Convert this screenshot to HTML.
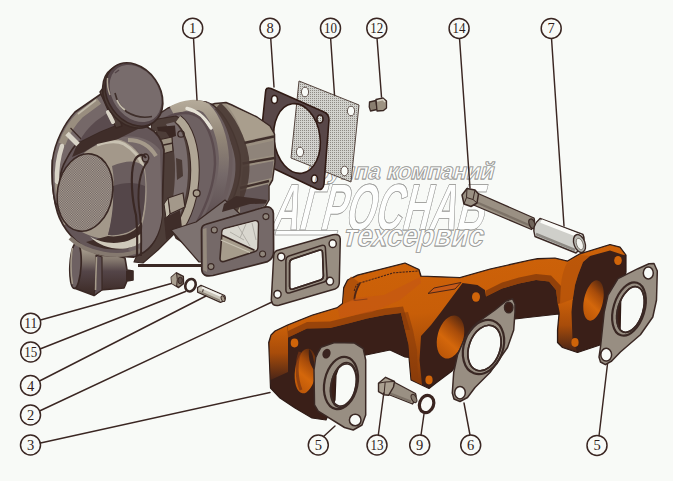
<!DOCTYPE html>
<html><head><meta charset="utf-8"><title>Турбокомпрессор и выпускной коллектор</title>
<style>
html,body{margin:0;padding:0;background:#f8faf7;}
body{width:673px;height:481px;overflow:hidden;font-family:"Liberation Serif",serif;}
svg{display:block}
.ld{stroke:#3a2622;stroke-width:1.45;fill:none;stroke-linecap:round}
.cc{fill:#f8faf7;stroke:#3a2622;stroke-width:1.5}
.ct{font-family:"Liberation Serif",serif;font-size:14.5px;fill:#2e1d1a;text-anchor:middle}
.wm{font-family:"Liberation Sans",sans-serif;font-weight:bold;fill:#fdfefd;stroke:#9a9a98;stroke-width:0.8}
</style></head><body>
<svg width="673" height="481" viewBox="0 0 673 481">
<defs>
<pattern id="dots" width="2" height="2" patternUnits="userSpaceOnUse"><rect width="2" height="2" fill="#d2d2ce"/><rect width="1" height="1" fill="#8e8a84"/></pattern>
<linearGradient id="gSleeve" x1="0" y1="0" x2="0" y2="1"><stop offset="0" stop-color="#8a857c"/><stop offset="0.25" stop-color="#f4f4f0"/><stop offset="0.6" stop-color="#c9c8c2"/><stop offset="1" stop-color="#6f685f"/></linearGradient>
</defs>
<rect width="673" height="481" fill="#f8faf7"/>

<!-- watermark -->
<g id="wm">
<text class="wm" transform="translate(305,178.5) skewX(-14)" font-size="23" textLength="188" lengthAdjust="spacingAndGlyphs" stroke-width="2.8" stroke-linejoin="miter">группа компаний</text>
<text class="wm" transform="translate(305,178.5) skewX(-14)" font-size="23" textLength="188" lengthAdjust="spacingAndGlyphs" stroke="#fdfefd" stroke-width="1.4" stroke-linejoin="miter">группа компаний</text>
<text class="wm" transform="translate(270,229.5) skewX(-14)" font-size="66" textLength="212" lengthAdjust="spacingAndGlyphs" stroke-width="4.6" stroke-linejoin="miter">АГРОСНАБ</text>
<text class="wm" transform="translate(270,229.5) skewX(-14)" font-size="66" textLength="212" lengthAdjust="spacingAndGlyphs" stroke="#fdfefd" stroke-width="3.0" stroke-linejoin="miter">АГРОСНАБ</text>
<text class="wm" transform="translate(342,245.5) skewX(-14)" font-size="31" textLength="140" lengthAdjust="spacingAndGlyphs" stroke-width="2.8" stroke-linejoin="miter">техсервис</text>
<text class="wm" transform="translate(342,245.5) skewX(-14)" font-size="31" textLength="140" lengthAdjust="spacingAndGlyphs" stroke="#fdfefd" stroke-width="1.4" stroke-linejoin="miter">техсервис</text>
<path d="M276 230.5 L338 230.5 L336.5 235 L275 235 Z" fill="#fdfefd" stroke="#9a9a98" stroke-width="0.8"/>
</g>

<!-- PLATE 10 -->
<g id="plate10">
<path d="M299 81 L359 105 L351 182 L291 158 Z" fill="url(#dots)" stroke="#54443e" stroke-width="1"/>
<ellipse cx="305" cy="92" rx="3.6" ry="4.8" fill="#f8faf7" stroke="#54443e" stroke-width="0.9"/>
<ellipse cx="351" cy="111" rx="3.6" ry="4.8" fill="#f8faf7" stroke="#54443e" stroke-width="0.9"/>
<ellipse cx="300" cy="152" rx="3.6" ry="4.8" fill="#f8faf7" stroke="#54443e" stroke-width="0.9"/>
<ellipse cx="344.5" cy="171" rx="3.6" ry="4.8" fill="#f8faf7" stroke="#54443e" stroke-width="0.9"/>
</g>

<!-- GASKET 8 -->
<g id="gasket8">
<path fill-rule="evenodd" fill="#584748" stroke="#301a14" stroke-width="1.6" stroke-linejoin="round"
 d="M265.5 92.5 Q265.5 86.5 271 88.5 L324 112 Q329 114 329 120 L324 184 Q323 191 317 189 L262 163 Q258 161 259 155 Z
    M274.2 141.7 A23 35 -8 1 0 319.8 135.3 A23 35 -8 1 0 274.2 141.7 Z
    M271.5 99.5 a3 4 0 1 0 6 0 a3 4 0 1 0 -6 0 Z
    M317 119 a3 4 0 1 0 6 0 a3 4 0 1 0 -6 0 Z
    M311.5 179 a3 4 0 1 0 6 0 a3 4 0 1 0 -6 0 Z"/>
</g>

<!-- TURBO placeholder -->
<g id="turbo" stroke-linejoin="round">
<defs>
<pattern id="dCap" width="2" height="2" patternUnits="userSpaceOnUse"><rect width="2" height="2" fill="#6e6068"/><rect width="1" height="1" fill="#b0a890"/></pattern>
<pattern id="dFace" width="2" height="2" patternUnits="userSpaceOnUse"><rect width="2" height="2" fill="#b0a890"/><rect width="1" height="1" fill="#6a5c66"/><rect x="1" y="1" width="1" height="1" fill="#6a5c66"/></pattern>
<linearGradient id="gVol" gradientUnits="userSpaceOnUse" x1="0" y1="100" x2="0" y2="225"><stop offset="0" stop-color="#b5ab9a"/><stop offset="0.3" stop-color="#928677"/><stop offset="0.6" stop-color="#756969"/><stop offset="1" stop-color="#5a4b4e"/></linearGradient>
</defs>
<!-- turbine right block -->
<path d="M210 105 L215 103.5 L221 103 L226 102.5 L232 105 L238 108 L257 117 L270 126 L274.5 134 L275 162 L272.5 180 L269 186 L269 200 L265 207 L240 216 L220 205 Z" fill="#9a8f80" stroke="#3a2824" stroke-width="1.5"/>
<path d="M226 104 L238 109 L257 118 L269 126.5 L273.5 134.5 L244 141.5 C241 128 236 116 226 104 Z" fill="#a99e8d"/>
<path d="M245 147 L274 140.5 L274 155 L244 160.5 Z" fill="#8f847a"/>
<path d="M243 167 L273.5 161 L271.5 178 L241 185 Z" fill="#7b6f6c"/>
<path d="M240 191 L268 184 L268 200 L264 206 L240 215 Z" fill="#645758"/>
<path d="M244 143 L274 136.5 M242.5 163.5 L274.5 158 M240 188 L269 181" stroke="#3f2e2a" stroke-width="2.4" fill="none"/>
<!-- turbine volute disc -->
<path d="M156 116 L168 108 L180 104 L197 101 L206 102 L213 105 C226 115 236 135 240 155 C242 172 238 190 230 205 L217 230 L204 256 L176 238 L160 200 L150 160 Z" fill="#6e6162" stroke="#3a2824" stroke-width="1.5"/>
<path d="M216 108 C229 120 239 139 242 158 C244 175 239 194 231 209 L219 232" stroke="#493833" stroke-width="14" fill="none" opacity=".9"/>
<path d="M206 104 C217 114 226 130 229 150 C231 170 227 190 220 206" stroke="#6a5c5d" stroke-width="6" fill="none"/>
<path d="M172 111 C185 104 198 103 206 108 C216 118 223 138 224 158 C224 180 218 200 208 220" stroke="url(#gVol)" stroke-width="10" fill="none"/>
<path d="M187 108.5 C196 110.5 205 118 211 128" stroke="#e6e2d6" stroke-width="3.4" fill="none" stroke-linecap="round"/>
<path d="M160 122 C172 112 190 110 200 118 C210 128 215 146 215 164 C214 184 207 204 197 222" stroke="#5b4b4e" stroke-width="2.4" fill="none"/>
<!-- center section -->
<path d="M152 120 L176 116 C190 122 197 145 197 170 C197 195 190 222 172 236 L158 250 L143 263 L134 262 L140 248 Z" fill="#4d3d38" stroke="#3a2824" stroke-width="1.2"/>
<path d="M174 122 C184 130 188 150 188 170 C188 192 183 212 174 228 L166 228 C172 210 175 190 175 170 C175 150 172 135 166 124 Z" fill="#786c6c"/>
<path d="M178 119 C189 127 195 148 195 170 C195 195 188 218 176 232" stroke="#3a2824" stroke-width="9.5" fill="none"/>
<path d="M178 119 C189 127 195 148 195 170 C195 195 188 218 176 232" stroke="#b0a695" stroke-width="7.5" fill="none"/>
<path d="M152 132 C157 150 159 190 156 222" stroke="#b0a695" stroke-width="8" fill="none"/>
<path d="M156.5 132 C161.5 150 163.5 190 160.5 222" stroke="#3a2824" stroke-width="1.2" fill="none"/>
<path d="M157 127 L175 125.5 L176 136 L170 138 L166 132 L158 131 Z" fill="#3a2824"/>
<path d="M158 140 L172 137 L173 151 L159 155 Z" fill="#9d9282" stroke="#3a2824" stroke-width="1.2"/>
<path d="M159 146 L173 143" stroke="#3a2824" stroke-width="1.4"/>
<path d="M176 158 L182 160 L183 176 L177 180 Z" fill="#4a3a35"/>
<path d="M168 198 L183 193 L185 207 L170 214 Z" fill="#a3988a" stroke="#3a2824" stroke-width="1.3"/>
<path d="M168 198 L170 214 L166 218 L164 204 Z" fill="#c2bbab" stroke="#3a2824" stroke-width="1"/>
<path d="M164 218 L180 210 L182 228 L166 240 Z" fill="#3f2d29"/>
<circle cx="181" cy="134" r="3.2" fill="none" stroke="#3a2824" stroke-width="1.3"/>
<circle cx="196.7" cy="193.3" r="3.4" fill="#a59a8a" stroke="#3a2824" stroke-width="1.3"/>
<!-- underside to flange -->
<path d="M171 230 L199 262 L204 262 L204 226 L240 214 L225 200 L196 222 Z" fill="#7d7270" stroke="#3a2824" stroke-width="1.2"/>
<path d="M222 212 L250 204 L266 203.5 L267 200 L236 196 L224 204 Z" fill="#3f2d29"/>
<!-- turbine flange -->
<path d="M201.5 230 Q201.5 225.5 206 224.3 L264 207.3 Q272.5 205.5 273.4 213.3 L273.6 251 Q273.6 258.5 267.6 261.6 L213 275.5 Q202.5 277.5 201.8 270 Z" fill="#756968" stroke="#3a2824" stroke-width="1.7"/>
<path d="M203 229 L206.5 228 L207 272 L203.2 270 Z" fill="#9d9282" opacity=".8"/>
<path d="M222 232 Q222 229.5 224.5 228.6 L254 220.9 Q258.4 220 258.4 224 L257.8 247.5 Q257.6 251 254.3 251.8 L224 261.5 Q220 262.3 220 258.5 Z" fill="#a69c8b" stroke="#3a2824" stroke-width="1.6"/>
<path d="M222.6 231.5 Q222.6 229.8 224.5 229.2 L254 221.5 Q257.7 220.8 257.7 224 L257.2 247.5 Q257 250 255 250.4 L222.2 235.5 Z" fill="#d9d7cf"/>
<path d="M230 232 L244 240 M238 226 L250 246 M246 224 L240 238 M252 223 L256 240" stroke="#a8a69e" stroke-width="0.8" fill="none"/>
<path d="M221.5 235 L254.5 250.2" stroke="#3a2824" stroke-width="1.7"/>
<path d="M221 240 L250 252.5" stroke="#c9c2b2" stroke-width="1.3"/>
<circle cx="214.3" cy="230" r="3" fill="#8f857b" stroke="#3a2824" stroke-width="1.1"/>
<circle cx="265.9" cy="216.6" r="3" fill="#8f857b" stroke="#3a2824" stroke-width="1.1"/>
<circle cx="262.6" cy="254" r="3" fill="#8f857b" stroke="#3a2824" stroke-width="1.1"/>
<circle cx="211" cy="266.6" r="3" fill="#8f857b" stroke="#3a2824" stroke-width="1.1"/>
<!-- rod -->
<path d="M138 265.5 L202 265.5" stroke="#3a2824" stroke-width="3"/>
<!-- lower outlet -->
<defs><linearGradient id="gOut" gradientUnits="userSpaceOnUse" x1="0" y1="246" x2="0" y2="292"><stop offset="0" stop-color="#b0a695"/><stop offset="0.3" stop-color="#85796f"/><stop offset="0.55" stop-color="#544548"/><stop offset="1" stop-color="#3f2d29"/></linearGradient></defs>
<path d="M76 243 L98 250 L125 258 L127 270 L133 271 L133 280 L127 281 L124 288 L101 290 L94 295.5 L74 288 Z" fill="url(#gOut)" stroke="#3a2824" stroke-width="1.6"/>
<path d="M96 255 L102 257 L102 290 L94 295.5 L96 280 Z" fill="#5e5053" stroke="#3a2824" stroke-width="1.2"/>
<path d="M96.5 257 L95.5 290" stroke="#a59a8a" stroke-width="1.6"/>
<ellipse cx="75.5" cy="265.5" rx="5.6" ry="23" transform="rotate(3 75.5 265.5)" fill="#6e6162" stroke="#3a2824" stroke-width="1.7"/>
<path d="M72.5 248 C70.5 258 70.5 274 72.5 284" stroke="#a59a8a" stroke-width="1.5" fill="none"/>
<path d="M126 271 L133 271 L133 280 L126 281 Z" fill="#3a2824"/>
<!-- compressor housing -->
<path d="M52.5 160 C51.5 180 53.5 204 59.5 218 C67 235 82 249 101 255 L134 257 C150 252 160 238 162 215 L164 150 C160 128 140 120 118 124 L80 128 Z" fill="#645658" stroke="#3a2824" stroke-width="1.8"/>
<!-- back part right of cylinder -->
<path d="M118 138 C135 134 150 138 160 150 L162 215 C160 235 152 248 138 254 L128 250 C140 235 146 210 146 185 C146 165 140 150 133 147 Z" fill="#756868"/>
<path d="M128 140 C140 140 150 146 156 156" stroke="#a59a8a" stroke-width="4" fill="none"/>
<!-- inlet cylinder side -->
<path d="M84 153 C92 146 106 140 117 139 C128 141 138 150 143 160 C148 178 148 205 142 226 C132 240 105 244 82 232 Z" fill="#a3988a"/>
<path d="M97 145 C108 141 118 141 124 144 C134 150 140 158 143 166" stroke="#c9c2b2" stroke-width="3" fill="none"/>
<path d="M112 166 C126 160 138 160 143 166 C147 180 146 202 141 222 C134 232 120 236 108 235 C114 215 116 188 112 166 Z" fill="#6a5d5e"/>
<path d="M113 186 C124 182 136 182 145 186 C145 200 144 212 141 222 C134 232 120 236 108 235 C112 220 114 202 113 186 Z" fill="#544649"/>
<path d="M108 236 C122 238 136 232 142 222 C143 232 140 240 134 246 C120 252 100 250 86 242 Z" fill="#3f2d29"/>
<path d="M90 236.5 C104 245 126 246 141 233.5 L141.5 242 C128 252.5 104 251 90 236.5 Z" fill="#cfc9bb"/>
<path d="M70 238 C86 254 120 260 140 250" stroke="#85796f" stroke-width="4" fill="none"/>
<!-- shadow under pipe -->
<path d="M78 142 L100 131 L127 120 L140 128 L117 139.5 L97 144 L84 152 L72 157 Z" fill="#3f2d29"/>
<!-- pipe + volute band -->
<path d="M101 94 L75 112 C64 124 55 142 52.5 160 C51.5 175 52.5 192 55.5 204 L60.5 204 C58 188 59 172 66 160 C71 150 75 145 79 142 L100 131.5 L121 123 Z" fill="#756868" stroke="#3a2824" stroke-width="1.6"/>
<path d="M99 101 L80 115 C72 123 66 133 62 144" stroke="#9d9282" stroke-width="7" fill="none" opacity=".9"/>
<path d="M96 100 L78 114" stroke="#c2bbab" stroke-width="1.6" fill="none"/>
<path d="M70.5 128 L82 140" stroke="#3a2824" stroke-width="1.2"/>
<path d="M67 133.5 L78 144.5" stroke="#d9d4c7" stroke-width="5"/>
<path d="M62 146 C58 158 56.5 170 57 182" stroke="#d9d4c7" stroke-width="4.5" fill="none" stroke-linecap="round"/>
<path d="M57 184 C57.5 200 61 214 66 224" stroke="#a59a8a" stroke-width="4" fill="none"/>
<path d="M113 109 L96 121 C89 127 83 134 79 142 L100 131.5 L121 123 Z" fill="#5a4b4e"/>
<!-- face ellipse -->
<ellipse cx="85" cy="192.5" rx="27.5" ry="39" transform="rotate(10 85 192.5)" fill="url(#dFace)" stroke="#3a2824" stroke-width="1.6"/>
<!-- wire clip -->
<path d="M146 158 C142 152 136 156 134 162 C130 175 132 200 136 215 C138 235 137 248 137 256" stroke="#3a2824" stroke-width="2.2" fill="none"/>
<path d="M148 161 C140 170 136 190 140 215 C142 235 141 248 141 256" stroke="#3a2824" stroke-width="1.9" fill="none"/>
<ellipse cx="145.5" cy="158" rx="3.2" ry="4" fill="none" stroke="#3a2824" stroke-width="1.5"/>
<!-- neck ring -->
<path d="M100 92 L106 84 L122 126 L116 128 Z" fill="#4d3d38" stroke="#3a2824" stroke-width="1.4"/>
<path d="M108 112 L113 122" stroke="#d9d4c7" stroke-width="4" stroke-linecap="round"/>
<!-- cap -->
<ellipse cx="131.5" cy="96.5" rx="34" ry="26" transform="rotate(55 131.5 96.5)" fill="#4a3a35" stroke="#3a2824" stroke-width="1.6"/>
<ellipse cx="134" cy="94.5" rx="34" ry="26" transform="rotate(55 134 94.5)" fill="#544548" stroke="#3a2824" stroke-width="1.6"/>
<ellipse cx="135.5" cy="93.5" rx="31" ry="23" transform="rotate(55 135.5 93.5)" fill="#786c6c"/>
<path d="M107.5 78 C107 84 108 90 110 95" stroke="#b3a897" stroke-width="1.4" fill="none"/>
<path d="M115 93 C117 102 121 108 127 112 C135 117 144 118 152 116.5" stroke="#3f2f2b" stroke-width="1.6" fill="none"/>
<path d="M117 100 C119 105 122 108 125 110" stroke="#c2bbab" stroke-width="1.8" fill="none"/>
<path d="M115 73 L119 70" stroke="#544548" stroke-width="1.4"/>
</g>
<g id="gasket2" stroke-linejoin="round">
<path fill-rule="evenodd" fill="#988e82" stroke="#3a2824" stroke-width="1.5"
 d="M273.7 256 Q273.7 252 277 250.5 L333 234.8 Q340 233.5 340.3 239 L339.3 283 Q339 287.5 335 289 L279 305.3 Q271.5 306.5 271.3 300 Z
    M289.6 263 Q289.6 260 292.5 259 L319 250.2 Q322.4 249.3 322.5 252.5 L323.4 276 Q323.4 279 320.5 280 L293 289 Q289.6 290 289.6 286.5 Z
    M277.6 256.8 a3.6 3.9 0 1 0 7.2 0 a3.6 3.9 0 1 0 -7.2 0 Z
    M329.1 243.7 a3.6 3.9 0 1 0 7.2 0 a3.6 3.9 0 1 0 -7.2 0 Z
    M326.3 281.2 a3.6 3.9 0 1 0 7.2 0 a3.6 3.9 0 1 0 -7.2 0 Z
    M273.9 294.3 a3.6 3.9 0 1 0 7.2 0 a3.6 3.9 0 1 0 -7.2 0 Z"/>
<path fill="none" stroke="#3a2824" stroke-width="1.6" d="M289.6 263 Q289.6 260 292.5 259 L319 250.2 Q322.4 249.3 322.5 252.5 L323.4 276 Q323.4 279 320.5 280 L293 289 Q289.6 290 289.6 286.5 Z"/>
<path fill="none" stroke="#3a2824" stroke-width="1.5" d="M285.9 260.5 Q285.9 257 289 256 L321.5 245.5 Q325.2 244.5 325.4 248 L327.1 277.5 Q327.1 281 324 282 L290 292.8 Q285.9 294 285.9 290 Z"/>
</g>
<g id="small" stroke-linejoin="round">
<!-- nut 11 -->
<path d="M171.3 277.4 L176.5 272.8 L183.3 276.4 L183.5 283.7 L178.6 287.5 L171.8 283.4 Z" fill="#8f8475" stroke="#3a2824" stroke-width="1.5"/>
<path d="M171.3 277.4 L176.5 272.8 L177.5 279 L176.8 286 L171.8 283.4 Z" fill="#aaa091"/>
<path d="M176.5 272.8 L177.3 279.5 L176.6 286.2" stroke="#3a2824" stroke-width="1" fill="none"/>
<ellipse cx="180.2" cy="280.4" rx="2.2" ry="3.4" fill="#5e4f49" stroke="#3a2824" stroke-width="1"/>
<!-- washer 15 -->
<ellipse cx="190.5" cy="285.2" rx="5" ry="6.4" transform="rotate(22 190.5 285.2)" fill="#f8faf7" stroke="#3a2824" stroke-width="2.6"/>
<!-- stud 4 -->
<path d="M197.6 287.5 L201 285.4 L224.6 295.5 Q226.3 298.5 224 301 L220.5 302.3 L197.6 292.2 Z" fill="#c9c4b8" stroke="#3a2824" stroke-width="1.3"/>
<path d="M204 286.8 L202 294" stroke="#3a2824" stroke-width="1"/>
<path d="M202 287.5 L222.5 296.5" stroke="#f1f0ea" stroke-width="2"/>
<path d="M199 291.2 L220 300.5" stroke="#8e8578" stroke-width="1.6"/>
<ellipse cx="223" cy="298.7" rx="1.7" ry="3" transform="rotate(-22 223 298.7)" fill="#a59a8a" stroke="#3a2824" stroke-width="0.9"/>
<!-- bolt 12 -->
<path d="M369.5 102 L376 100.5 L377 109.5 L370.5 111 Q368.5 107 369.5 102 Z" fill="#8a7e70" stroke="#3a2824" stroke-width="1.3"/>
<path d="M376 99.5 L383 98 L386.5 101 L386.5 108 L383.5 110.5 L377 111 Z" fill="#9d9282" stroke="#3a2824" stroke-width="1.3"/>
<path d="M377 101 L383 99.5 L385 102" stroke="#d9d4c7" stroke-width="1.3" fill="none"/>
<!-- bolt 14 -->
<path d="M477 193 L534 218 Q536 223 531.5 229.5 L473.5 205 Z" fill="#9a9083" stroke="#3a2824" stroke-width="1.3"/>
<path d="M476 202 L531 226" stroke="#7d7267" stroke-width="2.4"/>
<ellipse cx="532" cy="223.8" rx="2.8" ry="5" transform="rotate(-20 532 223.8)" fill="#6f645a" stroke="#3a2824" stroke-width="1.2"/>
<path d="M462 195 L467 188.5 L475 190 L478.5 194 L477 203 L471 206.5 L464 204 Z" fill="#9a9083" stroke="#3a2824" stroke-width="1.5"/>
<path d="M467 188.5 L466.5 197.5 L464 204 M466.5 197.5 L473 199.5 L477 203 M473 199.5 L475 190" stroke="#3a2824" stroke-width="1" fill="none"/>
<!-- sleeve 7 -->
<path d="M540 218.5 L583 234.5 Q587 243 576 253 L535 236.5 Q531 226 540 218.5 Z" fill="#cfcfca" stroke="#3a2824" stroke-width="1.4"/>
<path d="M541 221 L581 236.5" stroke="#fbfbf8" stroke-width="4"/>
<path d="M536 234 L575 250" stroke="#8e8a84" stroke-width="2.5"/>
<ellipse cx="579.5" cy="243.5" rx="5.5" ry="9.3" transform="rotate(-20 579.5 243.5)" fill="#b9b8b2" stroke="#3a2824" stroke-width="1.4"/>
<ellipse cx="579.8" cy="244" rx="3.2" ry="6" transform="rotate(-20 579.8 244)" fill="#f3f3ef" stroke="#6f685f" stroke-width="0.8"/>
</g>
<g id="manifold" stroke-linejoin="round">
<defs>
<linearGradient id="gOr" x1="0" y1="0" x2="0.25" y2="1"><stop offset="0" stop-color="#d06409"/><stop offset="0.55" stop-color="#c85e08"/><stop offset="1" stop-color="#8a3c0a"/></linearGradient>
<linearGradient id="gOr2" x1="0" y1="0" x2="0" y2="1"><stop offset="0" stop-color="#cc6109"/><stop offset="0.5" stop-color="#a84c0a"/><stop offset="1" stop-color="#4a2517"/></linearGradient>
<linearGradient id="gPort" x1="0.6" y1="0" x2="0.3" y2="1"><stop offset="0" stop-color="#5a2a10"/><stop offset="0.3" stop-color="#a84c0a"/><stop offset="0.6" stop-color="#d4670b"/><stop offset="1" stop-color="#b85408"/></linearGradient>
</defs>
<!-- silhouette -->
<path d="M268.7 342.5 L271 335 L275 331 L287.5 325 L312.5 315 L337.5 307.5 L342.5 303.5 L343.7 287.5 L347.5 280 L357.5 275 L405 263 L419 269.5 L421 276 L460 277.5 L490 269 L530 260 L537.5 258.7 L555 258 L567.5 261 L580 253.7 L610 244.5 L620 247 L626 255 L626 272 L621 290 L620 335 L600 345 L577.5 352.5 L562.5 347.5 L557.5 342.5 L557.5 330 L559 314 L527.5 317.5 L515 319 L500 324 L478 324 L468 335 L460 360 L452 371 L436 383 L429 388.5 L411 380 L409 357.5 L405 357 L390 350 L366 355 L342 358 L336 375 L335 400 L326 420 L312 418 L295 408 L280 398 L270.5 388 Z" fill="#3a1f18" stroke="#2e1a15" stroke-width="1.2"/>
<!-- orange top: left flange band -->
<path d="M269.5 343 L271.5 335.5 L275.5 331.5 L287.5 325.8 L288 337 L288 372 L270.5 380 Z" fill="url(#gOr2)"/>
<!-- left arm top + port + right arm top -->
<path d="M287.5 325.8 L312.5 315.8 L337.5 308.3 L343 304 L344.5 288 L348 280.8 L358 275.8 L405 263.8 L418.3 270 L420.3 276.8 L460 278.3 L490 269.8 L530 260.8 L537.5 259.5 L555 258.8 L567.5 261.8 L580 254.5 L610 245.3 L619.6 247.7 L625.2 255.2 L622 254.5 L610 250.5 L590 256 L583 262 L578 275 L575 285 L572.7 300 L558 305 L556 290 L549 281.5 L536 280 L519 283.5 L502 288.5 L486 296.5 L485 290 L477.5 285 L462.5 283 L441 312 L431 325 L421 336 L419.5 360 L422 385 L411.5 379.5 L409.5 357 L408.6 345 L405 330 L401 313 L385 315 L367 318.6 L350 323 L330 328 L307 328.5 L288 337.5 Z" fill="url(#gOr)"/>
<!-- dither-ish transitions -->
<path d="M288 331 L307 322 L330 321.5 L350 316.5 L367 312 L385 308.5 L403 306.5 L410 330 L405 330 L401 313 L385 315 L367 318.6 L350 323 L330 328 L307 328.5 L288 337.5 Z" fill="#7a340c" opacity=".6"/>
<path d="M486 290.5 L502 282.5 L519 277.5 L536 274 L551 275.5 L561 286 L560 304 L558 305 L556 290 L549 281.5 L536 280 L519 283.5 L502 288.5 L486 296.5 Z" fill="#7a340c" opacity=".7"/>
<path d="M401 313 L405 330 L408.6 345 L409.5 357 L411.5 379.5 L418 383 L417 350 L413 330 L408 312 Z" fill="#8a3c0a" opacity=".6"/>
<!-- right flange side band -->
<path d="M572.7 299 L571.5 312 L572.5 340 L577 351.5 L563 347 L558.3 342 L558.3 330 L559.8 313 L558 304 Z" fill="url(#gOr2)"/>
<path d="M567 263 C562 272 560 285 560 304 L572.7 299 L575 285 L578 275 L583 262 L590 256 L580 255 Z" fill="#a84c0a" opacity=".45"/>
<!-- box front-left face shading -->
<path d="M343 304 L344.5 288 L348 280.8 L351 276.5 L360 283 L354.3 300 Z" fill="#a84c0a" opacity=".75"/>
<path d="M360 283 C357 288 354.5 294 354.3 300.5" stroke="#4a2517" stroke-width="1.8" fill="none"/>
<path d="M354.3 291 C355 286.5 357 284 360 283 L393.6 272.8 L418 271" stroke="#4a2517" stroke-width="1.1" fill="none" stroke-dasharray="2.2 1"/>
<path d="M354.3 300.5 L367.4 299" stroke="#4a2517" stroke-width="1.1" fill="none"/>
<path d="M343 304 L356 298 L384 295 L420 277 L421 283 L400 300 L372 312 L340 318 L337.5 308.3 Z" fill="#c45615" opacity=".55"/>
<!-- pad -->
<path d="M428 293.5 L434 288 L461 282.5 L455 289 Z" fill="#c85a16" stroke="#4a2517" stroke-width="1"/>
<!-- port interiors -->
<ellipse cx="305.5" cy="371" rx="10.5" ry="22.5" transform="rotate(8 305.5 371)" fill="url(#gPort)"/>
<path d="M309 349 C313 353 315 362 314 370 C311 366 308 360 309 349 Z" fill="#3a1f18"/>
<path d="M300 352 C296 362 296 378 301 390" stroke="#7a3412" stroke-width="3" fill="none" opacity=".7"/>
<ellipse cx="450.5" cy="337" rx="13" ry="22" transform="rotate(15 450.5 337)" fill="url(#gPort)"/>
<ellipse cx="593.5" cy="300.5" rx="9.5" ry="20.5" transform="rotate(12 593.5 300.5)" fill="url(#gPort)"/>
<!-- bolt holes -->
<ellipse cx="294.5" cy="343" rx="3.8" ry="4.4" fill="#d06409"/>
<ellipse cx="476" cy="297" rx="4" ry="4.8" fill="#d06409"/>
<ellipse cx="429" cy="380" rx="3.6" ry="4.4" fill="#d06409"/>
<ellipse cx="618" cy="260.5" rx="3.8" ry="4.6" fill="#d06409"/>
<ellipse cx="575" cy="342.5" rx="3.6" ry="4.4" fill="#d06409"/>

<!-- gasket 5 left -->
<path fill-rule="evenodd" fill="#988e82" stroke="#3a2824" stroke-width="1.5"
 d="M315.7 357.5 L318.2 352 L321 347.3 L334.5 342.5 L354.5 343 L363.2 348.5 L365.7 360 L365.7 415 L362 425 L353.2 430 L344.5 427.5 L318.2 411.2 L314.5 405 L314 370 Z
    M331.5 382.4 A12.3 21.5 12 1 0 355.5 387.6 A12.3 21.5 12 1 0 331.5 382.4 Z
    M349.4 420 a5.8 5.8 0 1 0 11.6 0 a5.8 5.8 0 1 0 -11.6 0 Z"/>
<ellipse cx="326.5" cy="353.7" rx="4" ry="5" transform="rotate(20 326.5 353.7)" fill="#3a2420"/>
<ellipse cx="341" cy="383" rx="16.5" ry="26.5" transform="rotate(12 341 383)" fill="none" stroke="#3a2824" stroke-width="2.2"/>
<ellipse cx="343.5" cy="385" rx="12.3" ry="21.5" transform="rotate(12 343.5 385)" fill="none" stroke="#3a2824" stroke-width="1.7"/>

<!-- gasket 6 -->
<path fill-rule="evenodd" fill="#988e82" stroke="#3a2824" stroke-width="1.5"
 d="M506 301 L512.5 298.7 L515 304 L515 312 L513.7 330 L507.5 347.5 L490 372.5 L475 387.5 L467.5 397.5 L460 401.5 L454 399 L452.3 393 L453.7 372.5 L457.5 355 L465 337.5 L477.5 322.5 L495 310 Z
    M469.9 342.7 A15.5 23.5 20 1 0 499.1 353.3 A15.5 23.5 20 1 0 469.9 342.7 Z
    M504.5 307.5 a4.2 5.3 0 1 0 8.4 0 a4.2 5.3 0 1 0 -8.4 0 Z
    M454.7 392.7 a5.3 6.2 0 1 0 10.6 0 a5.3 6.2 0 1 0 -10.6 0 Z"/>
<ellipse cx="483.5" cy="347" rx="19.5" ry="28" transform="rotate(20 483.5 347)" fill="none" stroke="#3a2824" stroke-width="2.2"/>
<ellipse cx="484.5" cy="348" rx="15.5" ry="23.5" transform="rotate(20 484.5 348)" fill="none" stroke="#3a2824" stroke-width="1.7"/>

<!-- gasket 5 right -->
<path fill-rule="evenodd" fill="#988e82" stroke="#3a2824" stroke-width="1.5"
 d="M649 263.7 L654 263.5 L657.3 271 L656.5 300 L652.8 317 L640.4 334.8 L620.4 352 L611.7 361 L605.4 364.7 L600.5 362 L599 357 L600.5 347 L604.2 312 L608 295 L618 278.7 L637.9 268.7 Z
    M618.5 305.8 A12.5 23.5 17 1 0 642.5 313.2 A12.5 23.5 17 1 0 618.5 305.8 Z
    M643.3 273 a5 6 0 1 0 10 0 a5 6 0 1 0 -10 0 Z
    M600.8 354.7 a5.4 6.4 0 1 0 10.8 0 a5.4 6.4 0 1 0 -10.8 0 Z"/>
<ellipse cx="629" cy="309" rx="15.5" ry="27.5" transform="rotate(17 629 309)" fill="none" stroke="#3a2824" stroke-width="2.2"/>
<ellipse cx="630.5" cy="309.5" rx="12.5" ry="23.5" transform="rotate(17 630.5 309.5)" fill="none" stroke="#3a2824" stroke-width="1.7"/>

<!-- bolt 13 -->
<path d="M392 381 L415.5 393.5 Q417.5 398 412.5 404 L386 393.5 Z" fill="#9a9083" stroke="#3a2824" stroke-width="1.3"/>
<path d="M389 393 L411 401.5" stroke="#7d7267" stroke-width="2"/>
<ellipse cx="414" cy="398.5" rx="2.4" ry="4.4" transform="rotate(-25 414 398.5)" fill="#857a6e" stroke="#3a2824" stroke-width="1"/>
<path d="M378.5 383.2 L385.6 377.3 L394.5 381.5 L393.5 387 L388.6 395.3 L383.8 394.7 L378.5 391.6 Z" fill="#aaa091" stroke="#3a2824" stroke-width="1.4"/>
<path d="M385.2 382 L384 394.5 M385.2 382 L394.5 381.5 M385.2 382 L378.5 383.2" stroke="#3a2824" stroke-width="1" fill="none"/>
<!-- washer 9 -->
<ellipse cx="426.6" cy="404" rx="7" ry="8.8" transform="rotate(20 426.6 404)" fill="#f8faf7" stroke="#3a2420" stroke-width="3.2"/>
</g>
<!-- leaders -->
<g id="leaders">
<path class="ld" d="M193.5 38 L197 100"/>
<path class="ld" d="M270.7 38 L274 87"/>
<path class="ld" d="M330.6 38 L334.5 95"/>
<path class="ld" d="M377 38 L381.5 97"/>
<path class="ld" d="M459.5 38 L470 188"/>
<path class="ld" d="M551.5 38 L564 226"/>
<path class="ld" d="M40.5 320 L171.3 283.5"/>
<path class="ld" d="M40 349 L185.5 291.5"/>
<path class="ld" d="M39.5 381 L206 296"/>
<path class="ld" d="M39.5 411 L272 302"/>
<path class="ld" d="M40.5 443 L270 392.5"/>
<path class="ld" d="M323 437 L335 426"/>
<path class="ld" d="M378.3 435 L383.8 393"/>
<path class="ld" d="M421 435 L424 414"/>
<path class="ld" d="M470 435 L464 403"/>
<path class="ld" d="M599 436 L607.5 364"/>
</g>
<g id="callouts">
<circle class="cc" cx="192.7" cy="28.2" r="10"/><text class="ct" x="192.7" y="33">1</text>
<circle class="cc" cx="270" cy="28.2" r="10"/><text class="ct" x="270" y="33">8</text>
<circle class="cc" cx="330.5" cy="28.2" r="10"/><text class="ct" x="330.5" y="33" textLength="13" lengthAdjust="spacingAndGlyphs">10</text>
<circle class="cc" cx="376.8" cy="28.2" r="10"/><text class="ct" x="376.8" y="33" textLength="13" lengthAdjust="spacingAndGlyphs">12</text>
<circle class="cc" cx="459.1" cy="28.4" r="10"/><text class="ct" x="459.1" y="33" textLength="13" lengthAdjust="spacingAndGlyphs">14</text>
<circle class="cc" cx="551.2" cy="28.4" r="10"/><text class="ct" x="551.2" y="33">7</text>
<circle class="cc" cx="30.7" cy="323.2" r="10"/><text class="ct" x="30.7" y="328" textLength="13" lengthAdjust="spacingAndGlyphs">11</text>
<circle class="cc" cx="30.7" cy="352" r="10"/><text class="ct" x="30.7" y="357" textLength="13" lengthAdjust="spacingAndGlyphs">15</text>
<circle class="cc" cx="30.5" cy="385.5" r="10"/><text class="ct" x="30.5" y="390.5">4</text>
<circle class="cc" cx="30.5" cy="415" r="10"/><text class="ct" x="30.5" y="420">2</text>
<circle class="cc" cx="30.5" cy="445" r="10"/><text class="ct" x="30.5" y="450">3</text>
<circle class="cc" cx="318.3" cy="445" r="10"/><text class="ct" x="318.3" y="450">5</text>
<circle class="cc" cx="377" cy="445" r="10"/><text class="ct" x="377" y="450" textLength="13" lengthAdjust="spacingAndGlyphs">13</text>
<circle class="cc" cx="419.7" cy="445" r="10"/><text class="ct" x="419.7" y="450">9</text>
<circle class="cc" cx="470.7" cy="445" r="10"/><text class="ct" x="470.7" y="450">6</text>
<circle class="cc" cx="597" cy="445.4" r="10"/><text class="ct" x="597" y="450.4">5</text>
</g>
</svg>
</body></html>
